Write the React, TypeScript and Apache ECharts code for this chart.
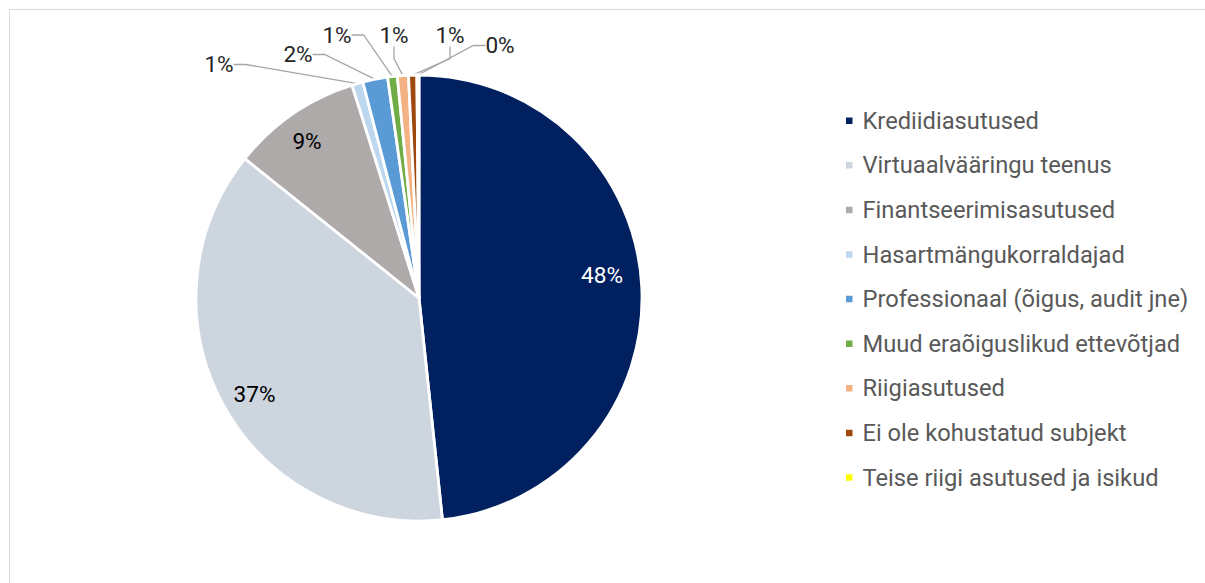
import React, { useEffect, useRef } from "react";
import * as echarts from "echarts";

const categories = [
  "Krediidiasutused",
  "Virtuaalvääringu teenus",
  "Finantseerimisasutused",
  "Hasartmängukorraldajad",
  "Professionaal (õigus, audit jne)",
  "Muud eraõiguslikud ettevõtjad",
  "Riigiasutused",
  "Ei ole kohustatud subjekt",
  "Teise riigi asutused ja isikud",
];
const shares = [48.3, 37.4, 9.4, 0.8, 1.8, 0.7, 0.8, 0.6, 0.15];
const colors = [
  "#002060",
  "#CDD5DF",
  "#AEAAAA",
  "#BDD7EE",
  "#5B9BD5",
  "#70AD47",
  "#F4B183",
  "#9E480E",
  "#FFFF00",
];
// which labels sit inside the slice
const insideLabel = [true, true, true, false, false, false, false, false, false];
const insideLabelColor = ["#FFFFFF", "#000000", "#000000"];
// label centres (chart pixels), as placed in the reference
const labelPos: [number, number][] = [
  [592, 265],
  [244.5, 384],
  [297, 131.5],
  [209, 54.5],
  [288, 44.5],
  [327, 25],
  [384, 25],
  [440, 25],
  [490, 35.5],
];

const FONT = "Roboto, 'Noto Sans', sans-serif";

export default function App() {
  const ref = useRef<HTMLDivElement>(null);
  useEffect(() => {
    if (!ref.current) return;
    const chart = echarts.init(ref.current, undefined, { renderer: "svg" });
    const data = categories.map((name, i) => ({
      name,
      value: shares[i],
      itemStyle: { color: colors[i] },
      label: insideLabel[i]
        ? { position: "inside", color: insideLabelColor[i] }
        : { position: "outside", color: "#262626" },
      labelLine: { show: !insideLabel[i] },
    }));
    chart.setOption({
      animation: false,
      backgroundColor: "#ffffff",
      legend: {
        orient: "vertical",
        left: 834,
        top: 97.7,
        padding: 0,
        icon: "rect",
        itemWidth: 8.5,
        itemHeight: 8.5,
        itemGap: 18.6,
        selectedMode: false,
        textStyle: {
          fontFamily: FONT,
          fontSize: 23.7,
          lineHeight: 26,
          color: "#595959",
          padding: [0, 0, 0, 4],
        },
        data: categories,
      },
      series: [
        {
          type: "pie",
          center: [409, 288],
          radius: 223,
          startAngle: 90,
          clockwise: true,
          avoidLabelOverlap: false,
          itemStyle: { borderColor: "#ffffff", borderWidth: 2.8 },
          label: {
            show: true,
            fontFamily: FONT,
            fontSize: 22.6,
            formatter: (p: any) => Math.round(p.percent) + "%",
          },
          labelLine: {
            show: true,
            length: 10,
            length2: 12,
            lineStyle: { color: "#A6A6A6", width: 1.3 },
          },
          labelLayout: (params: any) => {
            const pos = labelPos[params.dataIndex];
            return {
              x: pos[0],
              y: pos[1],
              align: "center",
              verticalAlign: "middle",
            };
          },
          emphasis: { disabled: true },
          data,
        },
      ],
    });
    return () => chart.dispose();
  }, []);
  return (
    <div
      style={{
        position: "absolute",
        left: 9,
        top: 9,
        width: 1196,
        height: 574,
        boxSizing: "border-box",
        borderTop: "1px solid #D9D9D9",
        borderLeft: "1px solid #D9D9D9",
        overflow: "hidden",
      }}
    >
      <div ref={ref} style={{ width: 1195, height: 573 }} />
    </div>
  );
}
